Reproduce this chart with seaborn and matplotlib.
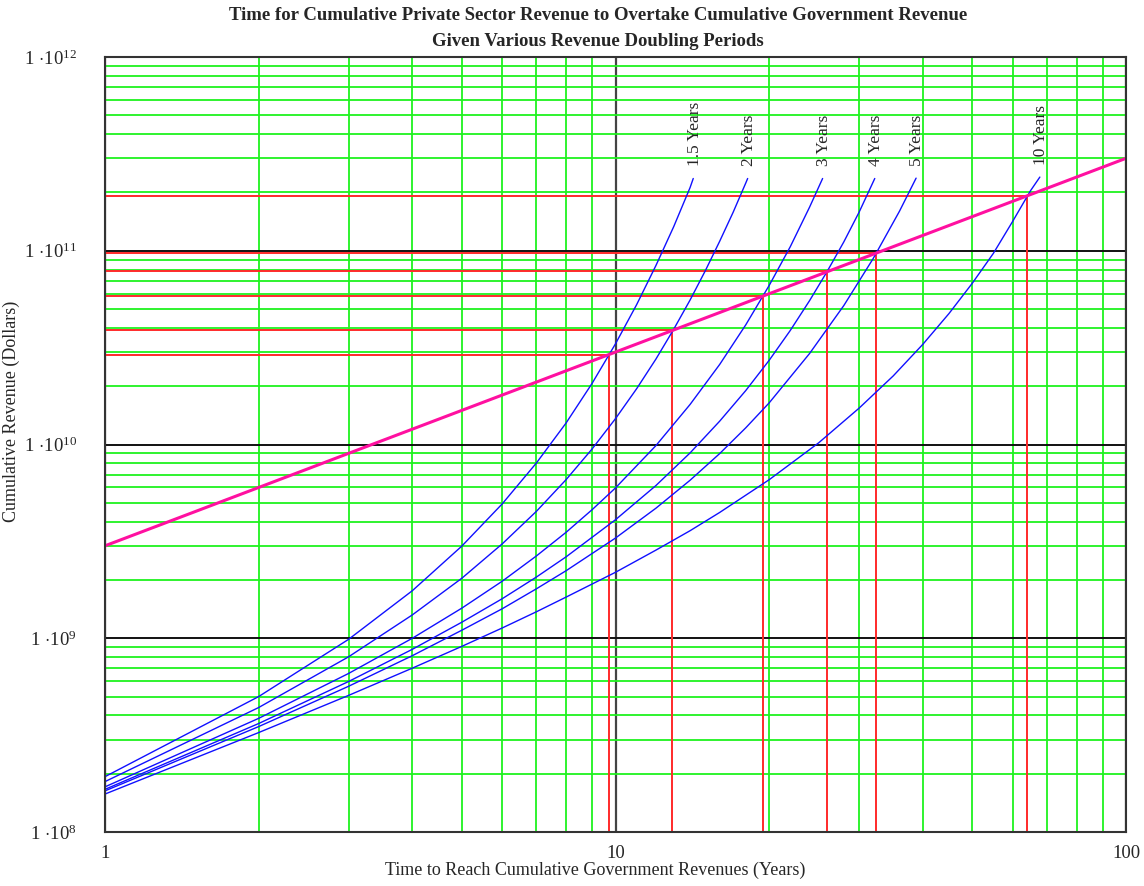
import numpy as np
import pandas as pd
import seaborn as sns
import matplotlib as mpl
from matplotlib import pyplot as plt
from matplotlib.ticker import LogLocator, NullFormatter, FuncFormatter, FixedLocator

# private sector cumulative revenue, one curve per doubling period
periods = ['1.5 Years', '2 Years', '3 Years', '4 Years', '5 Years', '10 Years']

t_15 = [1, 2, 3, 4, 5, 6, 7, 8, 9, 10, 11, 12, 13, 14, 14.2]
c_15 = [1.93e8, 5.00e8, 9.87e8, 1.76e9, 2.99e9, 4.94e9, 8.03e9, 1.29e10,
        2.07e10, 3.31e10, 5.27e10, 8.39e10, 1.33e11, 2.12e11, 2.36e11]

t_2 = [1, 2, 3, 4, 5, 6, 7, 8, 9, 10, 11, 12, 13, 14, 15, 16, 17, 18, 18.15]
c_2 = [1.82e8, 4.39e8, 8.02e8, 1.32e9, 2.04e9, 3.07e9, 4.52e9, 6.58e9, 9.49e9,
       1.36e10, 1.94e10, 2.76e10, 3.93e10, 5.57e10, 7.90e10, 1.12e11, 1.58e11,
       2.24e11, 2.36e11]

t_3 = [1, 2, 3, 4, 5, 6, 7, 8, 9, 10, 12, 14, 16, 18, 20, 22, 24, 25.45]
c_3 = [1.71e8, 3.86e8, 6.58e8, 1.00e9, 1.43e9, 1.97e9, 2.66e9, 3.52e9, 4.61e9,
       5.97e9, 9.87e9, 1.61e10, 2.59e10, 4.15e10, 6.62e10, 1.05e11, 1.68e11,
       2.36e11]

t_4 = [1, 2, 3, 4, 5, 6, 7, 8, 10, 12, 14, 16, 18, 20, 22, 24, 26, 28, 30, 32.2]
c_4 = [1.66e8, 3.63e8, 5.98e8, 8.77e8, 1.21e9, 1.60e9, 2.07e9, 2.63e9, 4.09e9,
       6.14e9, 9.05e9, 1.32e10, 1.90e10, 2.72e10, 3.88e10, 5.53e10, 7.85e10,
       1.11e11, 1.58e11, 2.36e11]

t_5 = [1, 2, 3, 4, 5, 6, 7, 8, 10, 12, 14, 16, 18, 20, 24, 28, 32, 36, 38.8]
c_5 = [1.63e8, 3.50e8, 5.65e8, 8.13e8, 1.10e9, 1.42e9, 1.80e9, 2.23e9, 3.29e9,
       4.69e9, 6.54e9, 8.98e9, 1.22e10, 1.64e10, 2.95e10, 5.21e10, 9.15e10,
       1.60e11, 2.37e11]

t_10 = [1, 2, 3, 4, 5, 6, 7, 8, 10, 12, 14, 16, 20, 25, 30, 35, 40, 45, 50,
        55, 60, 65, 67.8]
c_10 = [1.57e8, 3.26e8, 5.07e8, 7.01e8, 9.08e8, 1.13e9, 1.37e9, 1.63e9,
        2.19e9, 2.85e9, 3.59e9, 4.46e9, 6.58e9, 1.02e10, 1.54e10, 2.26e10,
        3.29e10, 4.74e10, 6.80e10, 9.71e10, 1.42e11, 2.04e11, 2.40e11]

# cumulative government revenue
gov_t = [1, 100]
gov_c = [3e9, 3e11]

# where private overtakes government
cross_t = [9.7, 12.9, 19.45, 25.97, 32.4, 64.0]
cross_c = [2.91e10, 3.88e10, 5.84e10, 7.9e10, 9.7e10, 1.92e11]

xticks = [1, 10, 100]
yticks = [1e8, 1e9, 1e10, 1e11, 1e12]

# long-form frame for seaborn
all_t = [t_15, t_2, t_3, t_4, t_5, t_10]
all_c = [c_15, c_2, c_3, c_4, c_5, c_10]
df = pd.concat([pd.DataFrame({'t': t, 'c': c, 'period': p})
                for t, c, p in zip(all_t, all_c, periods)], ignore_index=True)

sns.set_style("white")
plt.rcParams['font.family'] = ['Liberation Serif', 'DejaVu Serif']
plt.rcParams['mathtext.fontset'] = 'custom'
plt.rcParams['mathtext.rm'] = 'Liberation Serif'
plt.rcParams['mathtext.it'] = 'Liberation Serif:italic'

fig = plt.figure(figsize=(11.44, 8.86), dpi=100)
ax = fig.add_axes([105 / 1144, 54 / 886, 1021 / 1144, 775 / 886])

ax.set_xscale('log')
ax.set_yscale('log')
ax.set_xlim(1, 100)
ax.set_ylim(1e8, 1e12)

# grid: green minor lines, dark lines on decades
ax.xaxis.set_major_locator(FixedLocator(xticks))
ax.yaxis.set_major_locator(FixedLocator(yticks))
ax.xaxis.set_minor_locator(LogLocator(base=10, subs=np.arange(2, 10), numticks=100))
ax.yaxis.set_minor_locator(LogLocator(base=10, subs=np.arange(2, 10), numticks=100))
ax.xaxis.set_minor_formatter(NullFormatter())
ax.yaxis.set_minor_formatter(NullFormatter())
ax.grid(which='minor', color='#1ff21f', lw=1.3, zorder=0)
ax.grid(which='major', axis='y', color='#111111', lw=1.4, zorder=0)
ax.grid(which='major', axis='x', color='#444444', lw=1.6, zorder=0)
ax.set_axisbelow(True)

ax.xaxis.set_major_formatter(FuncFormatter(lambda v, p: '%d' % v))
ax.yaxis.set_major_formatter(
    FuncFormatter(lambda v, p: r'$1\,\cdot\!10^{%d}$' % round(np.log10(v))))
ax.tick_params(which='both', length=0, labelsize=13.5)
ax.tick_params(axis='x', pad=9)
ax.tick_params(axis='y', pad=20)

# red guide lines to the overtaking points
ax.hlines(cross_c, 1, cross_t, color='#ff2a2a', lw=1.4, zorder=2)
ax.vlines(cross_t, 1e8, cross_c, color='#ff2a2a', lw=1.4, zorder=2)

# government revenue line
ax.plot(gov_t, gov_c, color='#ff10a0', lw=2.2, zorder=4)

sns.lineplot(data=df, x='t', y='c', hue='period', palette=['#1010ff'] * 6,
             estimator=None, sort=False, legend=False, lw=1.0, ax=ax, zorder=3)

# curve labels
for t, c, p in zip(all_t, all_c, periods):
    ax.annotate(p, (t[-1], c[-1]), xytext=(1, 9), textcoords='offset points',
                rotation=90, ha='center', va='bottom', fontsize=12.5)

for s in ax.spines.values():
    s.set_color('#333333')
    s.set_linewidth(1.5)
    s.set_zorder(5)

ax.set_xlabel('Time to Reach Cumulative Government Revenues (Years)', fontsize=13)
ax.set_ylabel('Cumulative Revenue (Dollars)', fontsize=13)
ax.xaxis.set_label_coords(0.48, -0.038)
ax.yaxis.set_label_coords(-0.083, 0.543)

fig.text(0.5227, 0.982,
         'Time for Cumulative Private Sector Revenue to Overtake Cumulative Government Revenue',
         ha='center', va='center', fontsize=13.5, fontweight='bold')
fig.text(0.5227, 0.9537, 'Given Various Revenue Doubling Periods',
         ha='center', va='center', fontsize=13.5, fontweight='bold')

plt.savefig('out.png', dpi=100)
